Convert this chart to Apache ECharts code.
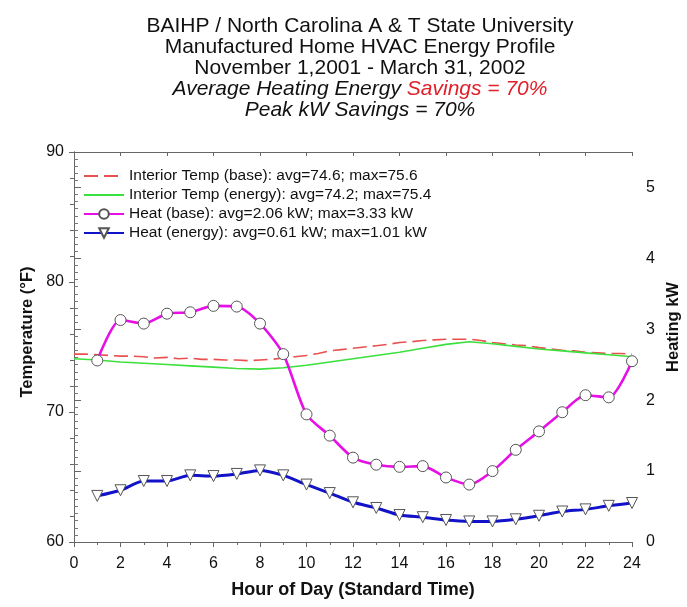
<!DOCTYPE html>
<html>
<head>
<meta charset="utf-8">
<script src="https://cdn.jsdelivr.net/npm/echarts@6/dist/echarts.min.js"></script>
<style>
  html, body { margin: 0; padding: 0; background: #fff; }
  #chart { width: 687px; height: 607px; }
</style>
</head>
<body>
<div id="chart"></div>
<script>
// Hours of day for the hourly heating readings
const heatHours = [1,2,3,4,5,6,7,8,9,10,11,12,13,14,15,16,17,18,19,20,21,22,23,24];

// Heating power, kW (right axis)
const heatBase   = [2.56,3.13,3.08,3.22,3.24,3.33,3.32,3.08,2.65,1.80,1.50,1.19,1.09,1.06,1.07,0.91,0.81,1.00,1.30,1.56,1.83,2.07,2.04,2.55];
const heatEnergy = [0.65,0.73,0.86,0.86,0.94,0.93,0.96,1.01,0.94,0.81,0.69,0.56,0.48,0.38,0.35,0.31,0.29,0.29,0.32,0.37,0.43,0.46,0.51,0.55];

// Interior temperature, base home (half-hour readings, °F)
const tempBaseHours = [0,0.5,1,1.5,2,2.5,3,3.5,4,4.5,5,5.5,6,6.5,7,7.5,8,8.5,9,9.5,10,10.5,11,11.5,12,12.5,13,13.5,14,14.5,15,15.5,16,16.5,17,17.5,18,18.5,19,19.5,20,20.5,21,21.5,22,22.5,23,23.5,24];
const tempBase = [74.45,74.45,74.4,74.35,74.3,74.3,74.25,74.15,74.2,74.1,74.15,74.05,74.05,74.0,74.0,73.95,74.0,74.05,74.15,74.25,74.35,74.5,74.7,74.8,74.9,75.0,75.1,75.2,75.35,75.4,75.5,75.55,75.6,75.6,75.6,75.5,75.35,75.25,75.15,75.1,74.95,74.85,74.75,74.7,74.6,74.55,74.5,74.5,74.45];

// Interior temperature, energy-efficient home (hourly, °F)
const tempEnergyHours = [0,1,2,3,4,5,6,7,8,9,10,11,12,13,14,15,16,17,18,19,20,21,22,23,24];
const tempEnergy = [74.1,74.0,73.85,73.75,73.65,73.55,73.45,73.35,73.3,73.4,73.6,73.85,74.1,74.35,74.6,74.9,75.2,75.4,75.25,75.05,74.85,74.7,74.55,74.4,74.25];

// Legend labels
const seriesNames = [
  'Interior Temp (base): avg=74.6; max=75.6',
  'Interior Temp (energy): avg=74.2; max=75.4',
  'Heat (base): avg=2.06 kW; max=3.33 kW',
  'Heat (energy): avg=0.61 kW; max=1.01 kW'
];

// Title lines
const titleLines = [
  'BAIHP / North Carolina A & T State University',
  'Manufactured Home HVAC Energy Profile',
  'November 1,2001 - March 31, 2002'
];
const titleSavingsLead = 'Average Heating Energy ';
const titleSavings = 'Savings = 70%';
const titlePeak = 'Peak kW Savings = 70%';

const FONT = '"Liberation Sans", Arial, sans-serif';
const TITLE_SIZE = 21;
const pair = (xs, ys) => xs.map((x, i) => [x, ys[i]]);

const chart = echarts.init(document.getElementById('chart'), null, { renderer: 'canvas' });

const titleGraphics = titleLines.map((t, i) => ({
  type: 'text', x: 360, y: 26 + i * 21,
  style: { text: t, font: TITLE_SIZE + 'px ' + FONT, fill: '#111', align: 'center', verticalAlign: 'middle' }
}));
titleGraphics.push({
  type: 'text', x: 360, y: 89,
  style: {
    text: '{i|' + titleSavingsLead + '}{r|' + titleSavings + '}',
    align: 'center', verticalAlign: 'middle',
    rich: {
      i: { fontFamily: FONT, fontSize: TITLE_SIZE, fontStyle: 'italic', fill: '#111' },
      r: { fontFamily: FONT, fontSize: TITLE_SIZE, fontStyle: 'italic', fill: '#e0202a' }
    }
  }
});
titleGraphics.push({
  type: 'text', x: 360, y: 110,
  style: { text: titlePeak, font: 'italic ' + TITLE_SIZE + 'px ' + FONT, fill: '#111', align: 'center', verticalAlign: 'middle' }
});

const option = {
  backgroundColor: '#fff',
  animation: false,
  textStyle: { fontFamily: FONT },
  graphic: titleGraphics.concat([
    {
      type: 'text', x: 27, y: 332, rotation: Math.PI / 2,
      style: { text: 'Temperature (°F)', font: 'bold 16.5px ' + FONT, fill: '#111', align: 'center', verticalAlign: 'middle' }
    },
    {
      type: 'text', x: 673, y: 327, rotation: Math.PI / 2,
      style: { text: 'Heating kW', font: 'bold 16.5px ' + FONT, fill: '#111', align: 'center', verticalAlign: 'middle' }
    }
  ]),
  legend: {
    orient: 'vertical',
    left: 78, top: 163,
    itemWidth: 40, itemHeight: 12, itemGap: 3,
    textStyle: { fontSize: 15.5, color: '#111', fontFamily: FONT },
    data: seriesNames
  },
  grid: { left: 74, right: 55, top: 152, bottom: 65, containLabel: false },
  xAxis: [
    {
      type: 'value', min: 0, max: 24, interval: 2, position: 'bottom',
      name: 'Hour of Day (Standard Time)', nameLocation: 'middle', nameGap: 39,
      nameTextStyle: { fontSize: 18, fontWeight: 'bold', color: '#111', fontFamily: FONT },
      axisLine: { lineStyle: { color: '#666', width: 1 } },
      axisTick: { inside: false, length: 5, lineStyle: { color: '#666' } },
      minorTick: { show: true, splitNumber: 2, length: 3, lineStyle: { color: '#666' } },
      axisLabel: { fontSize: 16, color: '#111', margin: 14, fontFamily: FONT },
      splitLine: { show: false }
    },
    {
      type: 'value', min: 0, max: 24, interval: 2, position: 'top',
      axisLine: { lineStyle: { color: '#666', width: 1 } },
      axisTick: { inside: true, length: 4, lineStyle: { color: '#666' } },
      axisLabel: { show: false },
      splitLine: { show: false }
    }
  ],
  yAxis: [
    {
      type: 'value', min: 60, max: 90, interval: 10, position: 'left',
      axisLine: { show: true, lineStyle: { color: '#666', width: 1 } },
      axisTick: { show: true, inside: false, length: 5, lineStyle: { color: '#666' } },
      minorTick: { show: true, splitNumber: 5, length: 4, lineStyle: { color: '#666' } },
      axisLabel: { fontSize: 16, color: '#111', margin: 10, fontFamily: FONT },
      splitLine: { show: false }
    },
    {
      type: 'value', min: 0, max: 5.5, interval: 1, position: 'right',
      axisLine: { show: true, lineStyle: { color: '#666', width: 1 } },
      axisTick: { show: true, inside: false, length: 7, lineStyle: { color: '#666' } },
      minorTick: { show: true, splitNumber: 10, length: 4, lineStyle: { color: '#777' } },
      axisLabel: { fontSize: 16, color: '#111', margin: 14, showMaxLabel: false, fontFamily: FONT },
      splitLine: { show: false }
    }
  ],
  series: [
    {
      name: seriesNames[0], type: 'line', xAxisIndex: 0, yAxisIndex: 0,
      data: pair(tempBaseHours, tempBase),
      showSymbol: false, symbol: 'none', z: 2,
      lineStyle: { color: '#e8504f', width: 1.6, type: [14, 6] },
      itemStyle: { color: 'rgba(0,0,0,0)', opacity: 0 }
    },
    {
      name: seriesNames[1], type: 'line', xAxisIndex: 0, yAxisIndex: 0,
      data: pair(tempEnergyHours, tempEnergy),
      showSymbol: false, symbol: 'none', z: 2,
      lineStyle: { color: '#3ce03c', width: 1.6 },
      itemStyle: { color: 'rgba(0,0,0,0)', opacity: 0 }
    },
    {
      name: seriesNames[2], type: 'line', xAxisIndex: 0, yAxisIndex: 1,
      data: pair(heatHours, heatBase),
      smooth: 0.25, z: 4,
      symbol: 'circle', symbolSize: 11,
      lineStyle: { color: '#e610e6', width: 2.6 },
      itemStyle: { color: '#ffffff', borderColor: '#555', borderWidth: 1 }
    },
    {
      name: seriesNames[3], type: 'line', xAxisIndex: 0, yAxisIndex: 1,
      data: pair(heatHours, heatEnergy),
      smooth: 0.25, z: 3,
      symbol: 'triangle', symbolRotate: 180, symbolSize: 11,
      lineStyle: { color: '#1212c8', width: 3 },
      itemStyle: { color: '#ffffff', borderColor: '#555', borderWidth: 1 }
    }
  ]
};

chart.setOption(option);
</script>
</body>
</html>
